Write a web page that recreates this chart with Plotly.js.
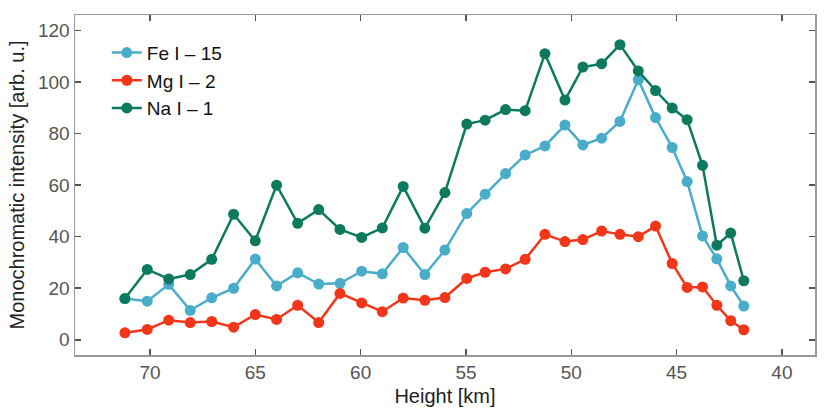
<!DOCTYPE html>
<html>
<head>
<meta charset="utf-8">
<script src="https://cdn.plot.ly/plotly-3.0.1.min.js"></script>
<style>
  body { margin: 0; background: #fff; }
  #plot { width: 830px; height: 415px; }
</style>
</head>
<body>
<div id="plot"></div>
<script>
// heights [km]
const height = [71.19, 70.13, 69.11, 68.09, 67.07, 66.03, 65.00, 63.99, 62.99, 61.99,
                60.98, 59.95, 58.97, 57.98, 56.95, 56.00, 54.96, 54.09, 53.12, 52.19,
                51.25, 50.30, 49.45, 48.56, 47.69, 46.82, 46.00, 45.21, 44.50, 43.77,
                43.09, 42.43, 41.81];

const fe = [16.0, 15.0, 21.5, 11.4, 16.3, 20.0, 31.3, 20.9, 26.0, 21.6,
            21.9, 26.6, 25.6, 35.8, 25.3, 34.8, 49.0, 56.5, 64.5, 71.7,
            75.2, 83.3, 75.6, 78.2, 84.7, 100.9, 86.2, 74.6, 61.4, 40.3,
            31.4, 20.9, 13.1];

const mg = [2.7, 4.0, 7.6, 6.7, 7.1, 4.9, 9.8, 7.9, 13.4, 6.7,
            18.0, 14.3, 10.9, 16.2, 15.3, 16.4, 23.8, 26.2, 27.5, 31.2,
            40.9, 38.1, 38.9, 42.2, 40.9, 40.0, 44.1, 29.6, 20.3, 20.5,
            13.4, 7.4, 3.9];

const na = [16.0, 27.3, 23.6, 25.3, 31.2, 48.7, 38.4, 60.0, 45.2, 50.5,
            42.8, 39.7, 43.4, 59.5, 43.3, 57.1, 83.7, 85.2, 89.3, 88.9,
            111.0, 93.0, 105.8, 107.1, 114.5, 104.3, 96.7, 89.9, 85.4, 67.7,
            36.7, 41.4, 22.9];

const names = ["Fe I \u2013 15", "Mg I \u2013 2", "Na I \u2013 1"];
const colors = ["#49adca", "#f2361a", "#0d7a5e"];

const series = [fe, mg, na];
const data = series.map((ys, i) => ({
  x: height,
  y: ys,
  name: names[i],
  mode: "lines+markers",
  type: "scatter",
  line: {color: colors[i], width: 2.5},
  marker: {color: colors[i], size: 11}
}));

const axisStyle = {
  showgrid: false,
  zeroline: false,
  showline: true,
  linecolor: "#999",
  linewidth: 1.5,
  mirror: "ticks",
  ticks: "inside",
  ticklen: 6,
  tickwidth: 1.5,
  tickcolor: "#555",
  tickfont: {size: 19, color: "#555"}
};

const layout = {
  width: 830,
  height: 415,
  margin: {t: 15, r: 15, b: 60, l: 75},
  font: {family: "Liberation Sans, Arial, sans-serif", color: "#222"},
  paper_bgcolor: "#fff",
  plot_bgcolor: "#fff",
  showlegend: true,
  legend: {
    x: 0.043, y: 0.945, xanchor: "left", yanchor: "top",
    font: {size: 19, color: "#111"},
    bgcolor: "rgba(0,0,0,0)",
    tracegroupgap: 0,
    itemwidth: 30
  },
  xaxis: Object.assign({}, axisStyle, {
    range: [73.56, 38.43],
    tickvals: [70, 65, 60, 55, 50, 45, 40],
    title: {text: "Height [km]", font: {size: 20, color: "#222"}, standoff: 6}
  }),
  yaxis: Object.assign({}, axisStyle, {
    range: [-5.9, 126],
    tickvals: [0, 20, 40, 60, 80, 100, 120],
    title: {text: "Monochromatic intensity [arb. u.]", font: {size: 20, color: "#222"}, standoff: 8}
  })
};

Plotly.newPlot("plot", data, layout, {displayModeBar: false, staticPlot: true});
</script>
</body>
</html>
